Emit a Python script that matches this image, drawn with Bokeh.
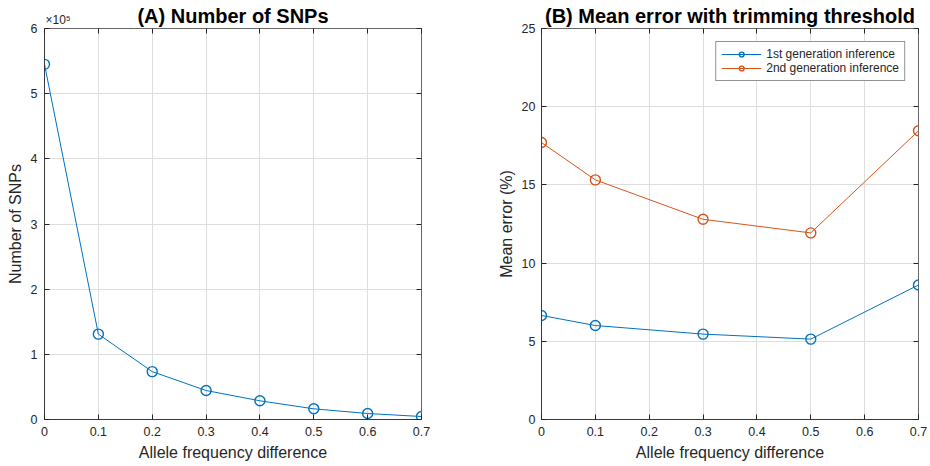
from bokeh.plotting import figure
from bokeh.layouts import row
from bokeh.models import (Range1d, FixedTicker, CustomJSTickFormatter, Title,
                          LinearAxis)
from bokeh.embed import file_html
from bokeh.resources import INLINE

# ---- data ----
thr_a = [0.0, 0.1, 0.2, 0.3, 0.4, 0.5, 0.6, 0.7]
n_snps = [545000, 131000, 73500, 44500, 28700, 16400, 9200, 4600]

thr_b = [0.0, 0.1, 0.3, 0.5, 0.7]
err_gen1 = [6.65, 6.01, 5.46, 5.14, 8.60]
err_gen2 = [17.71, 15.32, 12.80, 11.93, 18.46]

x_ticks = [0, 0.1, 0.2, 0.3, 0.4, 0.5, 0.6, 0.7]
ya_ticks = [0, 100000, 200000, 300000, 400000, 500000, 600000]
yb_ticks = [0, 5, 10, 15, 20, 25]

titles = ["(A) Number of SNPs", "(B) Mean error with trimming threshold"]
exponent_label = "×10⁵"
x_label = "Allele frequency difference"
ya_label = "Number of SNPs"
yb_label = "Mean error (%)"
legend_labels = ["1st generation inference", "2nd generation inference"]

BLUE = "#0072BD"
ORANGE = "#D95319"
AX = "#262626"
FONT = "Liberation Sans"


def main_title(text, standoff):
    return Title(text=text, align="center", text_font=FONT, text_font_size="20px",
                 text_font_style="bold", text_color="#000000", standoff=standoff)


def box_axis(ticks):
    return LinearAxis(ticker=FixedTicker(ticks=ticks),
                      formatter=CustomJSTickFormatter(code="return '';"),
                      major_label_standoff=0, major_tick_in=5, major_tick_out=0,
                      minor_tick_line_color=None, axis_line_color=None,
                      major_tick_line_color=AX)


def style(p, yticks):
    p.outline_line_color = AX
    p.outline_line_alpha = 0.7
    for ax in p.xaxis + p.yaxis:
        ax.axis_line_color = AX
        ax.axis_line_alpha = 0.7
        ax.major_tick_line_color = AX
        ax.major_tick_in = 5
        ax.major_tick_out = 0
        ax.minor_tick_line_color = None
        ax.major_label_text_font = FONT
        ax.major_label_text_font_size = "12.5px"
        ax.major_label_text_color = AX
        ax.axis_label_text_font = FONT
        ax.axis_label_text_font_size = "16px"
        ax.axis_label_text_font_style = "normal"
        ax.axis_label_text_color = AX
    p.xaxis.ticker = FixedTicker(ticks=x_ticks)
    p.yaxis.ticker = FixedTicker(ticks=yticks)
    p.xaxis.major_label_standoff = 7
    p.xaxis.axis_label_standoff = 5
    p.grid.grid_line_color = "#dedede"
    p.xgrid.ticker = FixedTicker(ticks=x_ticks)
    p.ygrid.ticker = FixedTicker(ticks=yticks)
    # matching inward ticks on the top and right edges of the box
    p.add_layout(box_axis(yticks), "right")
    p.add_layout(box_axis(x_ticks), "above")


# ---- panel A ----
pa = figure(width=470, height=466, output_backend="svg", toolbar_location=None,
            x_range=Range1d(0, 0.7), y_range=Range1d(0, 600000),
            min_border_left=44, min_border_right=49,
            min_border_top=28, min_border_bottom=47)
pa.line(thr_a, n_snps, line_color=BLUE, line_width=1)
pa.scatter(thr_a, n_snps, marker="circle", size=10, fill_color=None,
           line_color=BLUE, line_width=1.4)
pa.xaxis.axis_label = x_label
pa.yaxis.axis_label = ya_label
style(pa, ya_ticks)
pa.yaxis[0].formatter = CustomJSTickFormatter(code="return (tick/1e5).toFixed(0);")
pa.yaxis[0].major_label_standoff = 7
pa.yaxis[0].axis_label_standoff = 4
pa.add_layout(Title(text=exponent_label, align="left", offset=1, text_font=FONT,
                    text_font_size="12px", text_font_style="normal",
                    text_color=AX, standoff=3), "above")
pa.add_layout(main_title(titles[0], -35), "above")

# ---- panel B ----
pb = figure(width=460, height=466, output_backend="svg", toolbar_location=None,
            x_range=Range1d(0, 0.7), y_range=Range1d(0, 25),
            min_border_left=71, min_border_right=12,
            min_border_top=28, min_border_bottom=47)
pb.line(thr_b, err_gen1, line_color=BLUE, line_width=1, legend_label=legend_labels[0])
pb.scatter(thr_b, err_gen1, marker="circle", size=10, fill_color=None,
           line_color=BLUE, line_width=1.4, legend_label=legend_labels[0])
pb.line(thr_b, err_gen2, line_color=ORANGE, line_width=1, legend_label=legend_labels[1])
pb.scatter(thr_b, err_gen2, marker="circle", size=10, fill_color=None,
           line_color=ORANGE, line_width=1.4, legend_label=legend_labels[1])
pb.xaxis.axis_label = x_label
pb.yaxis.axis_label = yb_label
style(pb, yb_ticks)
pb.yaxis[0].major_label_standoff = 6
pb.yaxis[0].axis_label_standoff = 4
pb.add_layout(main_title(titles[1], 3), "above")

lg = pb.legend[0]
lg.location = "top_right"
lg.margin = 13
lg.padding = 5
lg.spacing = 0
lg.border_line_color = AX
lg.border_line_width = 1
lg.label_text_font = FONT
lg.label_text_font_size = "12px"
lg.label_text_color = AX
lg.glyph_width = 40
lg.glyph_height = 12
lg.label_height = 12
lg.label_standoff = 5
lg.background_fill_alpha = 1.0

layout = row(pa, pb)
open("out.html", "w").write(file_html(layout, INLINE))
